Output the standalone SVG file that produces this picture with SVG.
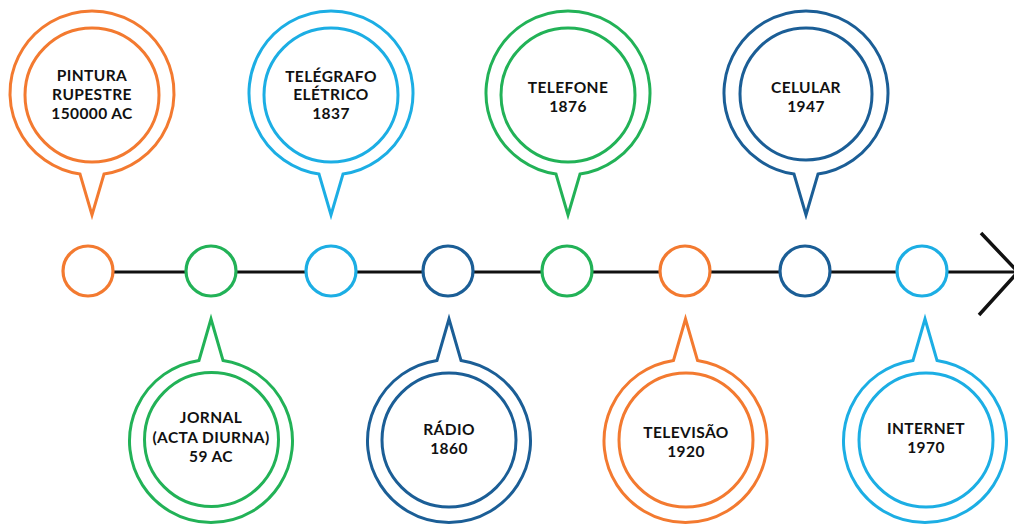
<svg xmlns="http://www.w3.org/2000/svg" width="1014" height="525" viewBox="0 0 1014 525">
<style>
.b{fill:none;stroke-width:3;stroke-linejoin:miter}
.dot{fill:#fff;stroke-width:3.2}
.o{stroke:#F37A30}.g{stroke:#22B257}.lb{stroke:#1CAEE4}.db{stroke:#1B5E96}
text{font-family:Lato,"Noto Sans","Liberation Sans",sans-serif;font-weight:bold;font-size:15.5px;letter-spacing:0.4px;fill:#111;text-anchor:middle}
</style>
<rect width="1014" height="525" fill="#fff"/>
<g id="connectors">
<line x1="88" y1="272" x2="1016" y2="272" stroke="#111" stroke-width="3"/>
<polyline points="981,233 1018,272 979,315" fill="none" stroke="#111" stroke-width="3.5"/>
</g>
<g id="dots">
<circle class="dot o" cx="88" cy="271" r="25"/>
<circle class="dot g" cx="211" cy="271" r="25"/>
<circle class="dot lb" cx="331" cy="271" r="25"/>
<circle class="dot db" cx="448" cy="271" r="25"/>
<circle class="dot g" cx="567" cy="271" r="25"/>
<circle class="dot o" cx="685" cy="271" r="25"/>
<circle class="dot db" cx="805" cy="271" r="25"/>
<circle class="dot lb" cx="922" cy="271" r="25"/>
</g>
<g id="pintura">
<path class="b o" d="M80,174.1 A82,82 0 1 1 104,174.1 L92,215 Z"/>
<circle class="b o" cx="92" cy="95" r="67"/>
<text x="92" y="81">PINTURA</text><text x="92" y="100">RUPESTRE</text><text x="92" y="119">150000 AC</text>
</g>
<g id="telegrafo">
<path class="b lb" d="M319,174.1 A82,82 0 1 1 343,174.1 L331,215 Z"/>
<circle class="b lb" cx="331" cy="95" r="67"/>
<text x="331" y="82">TELÉGRAFO</text><text x="331" y="100">ELÉTRICO</text><text x="331" y="119">1837</text>
</g>
<g id="telefone">
<path class="b g" d="M556,174.1 A82,82 0 1 1 580,174.1 L568,215 Z"/>
<circle class="b g" cx="568" cy="95" r="67"/>
<text x="568" y="93">TELEFONE</text><text x="568" y="112">1876</text>
</g>
<g id="celular">
<path class="b db" d="M794,174.1 A82,82 0 1 1 818,174.1 L806,215 Z"/>
<circle class="b db" cx="806" cy="94" r="66"/>
<text x="806" y="93">CELULAR</text><text x="806" y="112">1947</text>
</g>
<g id="jornal">
<path class="b g" d="M223,360.4 A81.5,81.5 0 1 1 199,360.4 L211,319 Z"/>
<circle class="b g" cx="211.5" cy="439.5" r="67"/>
<text x="211" y="423">JORNAL</text><text x="211" y="443">(ACTA DIURNA)</text><text x="211" y="462">59 AC</text>
</g>
<g id="radio">
<path class="b db" d="M461,360.4 A81.5,81.5 0 1 1 437,360.4 L449,319 Z"/>
<circle class="b db" cx="449" cy="440" r="67"/>
<text x="449" y="435">RÁDIO</text><text x="449" y="454">1860</text>
</g>
<g id="televisao">
<path class="b o" d="M697.5,360.4 A81.5,81.5 0 1 1 673.5,360.4 L685.5,319 Z"/>
<circle class="b o" cx="686" cy="440" r="67"/>
<text x="686" y="438">TELEVISÃO</text><text x="686" y="457">1920</text>
</g>
<g id="internet">
<path class="b lb" d="M937,360.4 A81.5,81.5 0 1 1 913,360.4 L925,319 Z"/>
<circle class="b lb" cx="926" cy="440" r="67"/>
<text x="926" y="434">INTERNET</text><text x="926" y="453">1970</text>
</g>
</svg>
